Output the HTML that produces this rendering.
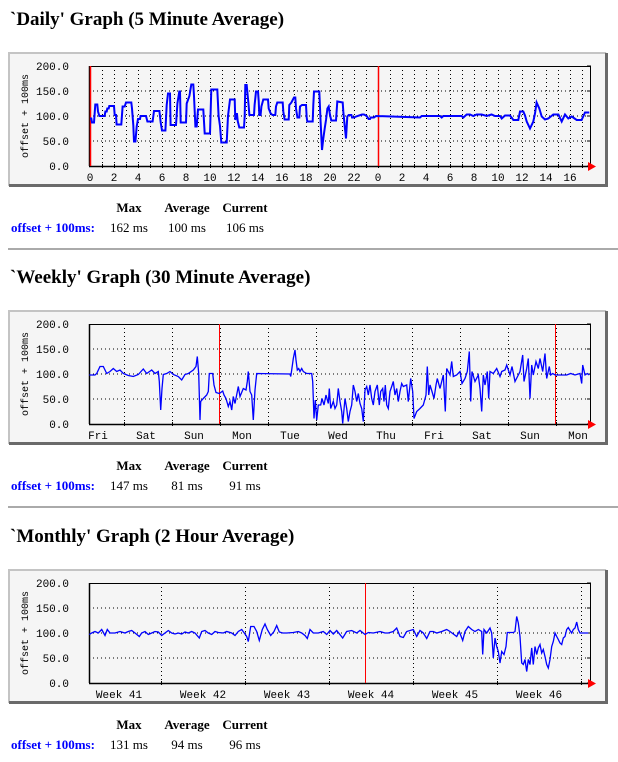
<!DOCTYPE html>
<html><head><meta charset="utf-8"><style>
html,body{margin:0;padding:0;background:#fff;}
svg{display:block;}
</style></head><body>
<svg id="root" width="618" height="762" xmlns="http://www.w3.org/2000/svg"></svg>
<script>
// ===== DATA =====
// Daily: time in hours from chart start, values in ms (offset + 100ms)
const dayHours = [0,0.11,0.17,0.33,0.44,0.61,0.67,0.78,1.22,1.28,1.39,1.44,1.56,1.61,2.0,2.06,2.17,2.22,2.61,2.72,2.89,3.0,3.44,3.5,3.61,3.67,3.78,3.89,4.0,4.17,4.22,4.67,4.78,5.22,5.33,5.78,5.89,6.0,6.28,6.39,6.5,6.67,6.72,7.17,7.28,7.44,7.5,7.56,8.0,8.06,8.28,8.44,8.61,8.67,8.78,8.89,9.0,9.44,9.56,10.0,10.11,10.61,10.72,10.83,10.94,11.39,11.5,11.67,12.06,12.11,12.17,12.25,12.31,12.44,12.83,12.89,12.94,13.06,13.11,13.22,13.28,13.67,13.72,13.83,14.0,14.06,14.11,14.22,14.28,14.44,14.83,14.89,15.06,15.22,15.44,15.5,15.61,16.06,16.11,16.22,16.56,16.61,16.78,17.0,17.11,17.17,17.28,17.44,17.5,17.67,18.0,18.06,18.11,18.56,18.61,18.67,19.11,19.22,19.33,19.44,19.56,19.67,19.78,19.89,20.0,20.11,20.5,20.61,21.06,21.11,21.22,21.33,21.44,21.56,21.78,21.83,22.0,22.17,22.67,22.83,23.06,23.22,23.33,23.39,23.67,23.83,27.5,27.64,29.17,29.31,29.44,30.97,31.11,31.39,31.67,31.94,32.22,32.64,33.06,33.47,33.75,34.17,34.31,34.58,35.0,35.28,35.69,35.83,36.11,36.25,36.39,36.67,36.94,37.08,37.22,37.44,37.64,37.92,38.19,38.61,39.03,39.31,39.58,39.86,40.14,40.56,40.97,41.25,41.61];
const dayValues = [95,95,87,87,123,123,109,100,100,109,109,115,115,120,120,102,102,83,83,119,119,127,127,115,82,49,49,79,94,94,100,100,89,89,110,110,87,71,71,122,145,145,82,82,125,149,149,87,87,125,140,163,163,140,79,79,113,113,65,65,153,153,100,80,47,47,100,133,133,92,104,104,90,77,77,100,162,162,149,122,102,102,122,149,149,130,102,102,119,133,133,115,105,102,102,119,127,127,109,93,93,122,127,137,137,115,97,97,119,122,122,97,89,89,122,149,149,89,32,55,75,92,115,119,102,91,91,129,127,109,82,55,99,102,102,97,97,99,103,103,100,94,94,97,97,100,97,100,100,97,100,100,97,103,103,100,103,103,100,103,100,100,95,101,101,92,92,109,109,101,89,75,89,105,127,115,99,93,95,103,103,89,103,95,99,92,92,107,107];
const dayTickLabels = ["0","2","4","6","8","10","12","14","16","18","20","22","0","2","4","6","8","10","12","14","16"];
const dayRedHours = [0,24];

// Weekly: time in 10-minute units from chart start
const weekTimes = [1,18,23,33,43,53,63,73,83,93,103,118,133,148,163,173,188,198,208,211,215,219,223,233,243,253,268,278,288,298,313,321,325,329,333,335,343,353,358,361,371,375,381,391,401,405,411,418,423,428,433,438,448,453,463,471,475,478,483,488,493,498,503,603,605,608,613,618,621,625,629,633,638,643,653,668,671,675,679,683,688,691,695,699,705,711,718,721,725,733,738,743,748,753,758,761,768,773,778,783,788,793,798,803,808,813,818,823,828,833,838,843,848,853,858,865,871,875,881,885,889,893,898,903,908,913,918,923,928,933,938,943,953,958,965,971,975,983,993,1003,1011,1015,1019,1023,1029,1035,1041,1045,1053,1063,1069,1073,1083,1088,1093,1103,1113,1119,1128,1135,1141,1145,1149,1158,1168,1173,1178,1183,1188,1195,1199,1203,1213,1223,1233,1238,1248,1253,1263,1269,1278,1288,1293,1301,1305,1313,1318,1323,1328,1333,1341,1348,1353,1361,1368,1373,1381,1385,1391,1399,1433,1445,1458,1473,1478,1481,1488,1495,1501];
const weekValues = [98,98,101,115,115,101,105,111,105,108,101,97,95,99,110,101,108,101,105,85,28,71,99,101,105,99,95,88,99,101,108,115,135,101,8,45,51,58,65,101,101,78,63,61,66,58,51,35,45,28,55,41,75,55,71,68,85,105,65,58,8,68,101,100,95,108,131,148,128,108,111,105,111,105,101,101,85,11,48,8,38,38,38,51,38,58,41,71,31,45,31,38,71,45,25,1,51,31,5,25,38,78,65,45,61,41,31,5,68,75,58,78,51,38,65,78,38,65,71,45,78,38,31,65,75,85,58,71,45,65,81,75,78,45,91,65,11,25,31,38,58,115,58,78,65,51,78,91,71,98,25,111,98,125,95,98,105,81,91,105,145,45,105,85,98,71,25,98,78,105,51,105,101,111,95,105,108,118,98,115,85,98,105,138,85,111,131,51,118,98,125,111,131,105,141,91,115,98,101,98,98,101,98,101,81,118,98,101,98];
const weekDayLabels = ["Fri","Sat","Sun","Mon","Tue","Wed","Thu","Fri","Sat","Sun","Mon"];
const weekRedTimes = [390,1398];

// Monthly: time in 40-minute units from chart start
const monthTimes = [1,8,18,28,38,48,55,63,78,93,108,118,128,138,151,158,168,178,188,198,208,218,228,238,248,258,268,278,288,298,308,318,331,338,348,358,368,378,388,403,413,428,438,448,458,468,473,478,485,495,503,511,520,528,535,545,555,563,571,581,593,613,628,638,648,655,663,673,688,703,713,723,733,743,761,773,788,803,813,828,838,853,873,888,898,913,923,933,943,953,973,983,993,1003,1013,1023,1033,1043,1058,1073,1083,1095,1103,1111,1121,1128,1138,1148,1158,1168,1178,1181,1185,1193,1203,1208,1213,1218,1223,1228,1233,1238,1245,1251,1255,1273,1278,1283,1288,1293,1298,1303,1308,1313,1318,1323,1328,1333,1338,1343,1348,1353,1358,1363,1368,1373,1378,1383,1388,1393,1398,1403,1408,1413,1418,1423,1428,1433,1438,1443,1448,1453,1458,1463,1468,1473,1483,1498];
const monthValues = [97,100,103,100,107,95,107,100,100,103,100,103,105,100,93,100,103,97,100,103,102,95,100,105,100,98,100,98,102,100,103,100,90,103,105,100,97,103,101,100,103,100,95,103,107,98,93,83,113,113,103,85,107,118,107,95,103,115,102,100,100,101,103,100,95,89,107,100,100,103,97,105,98,105,90,103,105,100,105,97,101,100,103,100,100,103,110,93,91,103,107,93,105,100,89,103,103,100,103,107,103,97,93,103,85,103,113,107,103,107,103,57,107,100,110,100,50,90,73,63,40,63,57,73,101,101,103,133,120,93,40,37,47,23,47,37,70,37,73,57,70,77,60,67,53,37,30,47,73,83,100,93,87,80,77,90,93,107,111,105,100,107,110,122,107,100,100,100];
const monthWeekLabels = ["Week 41","Week 42","Week 43","Week 44","Week 45","Week 46"];
const monthRedTimes = [828];

const yTickValues = [0,50,100,150,200];
const yTickLabels = ["0.0","50.0","100.0","150.0","200.0"];

// ===== RENDER =====
const NS = "http://www.w3.org/2000/svg";
const root = document.getElementById('root');
function mk(tag, attrs, parent){ const e=document.createElementNS(NS,tag); for(const k in attrs) e.setAttribute(k,attrs[k]); (parent||root).appendChild(e); return e; }

const PX0 = 89, PX1 = 590;

function section(cfg){
  const g = mk('g',{});
  
  
  const top = cfg.top;
  const plotTop = top + 14, plotBot = top + 114;
  const yScale = v => plotBot - v * 0.5;
  const xScale = cfg.xScale;

  const title = mk('text',{x:10,y:top-27,'font-family':'"Liberation Serif",serif','font-size':19,'font-weight':'bold',fill:'#000'},g);
  title.textContent = cfg.title;
  
  

  const panel = mk('rect',{x:8,y:top,width:599,height:134,fill:'#f5f5f5'},g);
  
  
  mk('path',{d:`M9 ${top+134} V${top+1} H606`,stroke:'#c4c4c4','stroke-width':2,fill:'none'},g);
  mk('path',{d:`M9 ${top+133.5} H606.5 V${top+1}`,stroke:'#6a6a6a','stroke-width':3,fill:'none'},g);

  yTickValues.forEach((v,i)=>{
    const y = yScale(v);
    if(v>0 && v<200){
      const l = mk('line',{x1:PX0,x2:PX1,y1:y,y2:y,stroke:'#000','stroke-width':1,'stroke-dasharray':'1,3'},g);
      
      
    }
    mk('line',{x1:PX1-3,x2:PX1+1,y1:y,y2:y,stroke:'#000'},g);
    const t = mk('text',{x:69,y:y+4,'text-anchor':'end','font-family':'"Liberation Mono",monospace','font-size':11,fill:'#000'},g);
    t.textContent = yTickLabels[i];
    
    
  });
  cfg.vgrid.forEach(tt=>{
    const x = Math.round(xScale(tt))+0.5;
    const l = mk('line',{x1:x,x2:x,y1:plotTop,y2:plotBot,stroke:'#000','stroke-width':1,'stroke-dasharray':'1,3'},g);
    
    
    mk('line',{x1:x,x2:x,y1:plotBot-2,y2:plotBot+2,stroke:'#000'},g);
  });
  mk('line',{x1:PX0,x2:PX1,y1:plotTop+0.5,y2:plotTop+0.5,stroke:'#000'},g);
  mk('line',{x1:PX1+0.5,x2:PX1+0.5,y1:plotTop,y2:plotBot,stroke:'#000'},g);
  mk('line',{x1:PX0+0.5,x2:PX0+0.5,y1:plotTop,y2:plotBot,stroke:'#000','stroke-width':1.5},g);
  const xa = mk('line',{x1:PX0,x2:PX1+2,y1:plotBot+0.5,y2:plotBot+0.5,stroke:'#000','stroke-width':1.5},g);
  
  
  cfg.red.forEach(tt=>{
    const x = Math.round(xScale(tt))+0.5;
    const l = mk('line',{x1:x,x2:x,y1:plotTop,y2:plotBot,stroke:'#ff0000','stroke-width':cfg.redW},g);
    
    
  });
  const ar = mk('polygon',{points:`${PX1-2},${plotBot-4} ${PX1+6},${plotBot+0.5} ${PX1-2},${plotBot+5}`,fill:'#ff0000'},g);
  
  
  cfg.labels.forEach(lb=>{
    const t = mk('text',{x:lb.x,y:plotBot+15,'text-anchor':lb.anchor||'middle','font-family':'"Liberation Mono",monospace','font-size':11,fill:'#000'},g);
    t.textContent = lb.text;
    
    
  });
  const yt = mk('text',{x:0,y:0,transform:`translate(28 ${(plotTop+plotBot)/2}) rotate(-90)`,'text-anchor':'middle','font-family':'"Liberation Mono",monospace','font-size':10,fill:'#000'},g);
  yt.textContent = 'offset + 100ms';
  
  
  const pts = cfg.times.map((tt,i)=> xScale(tt).toFixed(1)+','+yScale(Math.max(0,Math.min(200,cfg.values[i]))).toFixed(1)).join(' ');
  const pl = mk('polyline',{points:pts,fill:'none',stroke:'#0000ff','stroke-width':cfg.lineW,'stroke-linejoin':'miter'},g);
  
  

  const sy = top + 160;
  const heads = [['Max',129],['Average',187],['Current',245]];
  heads.forEach(h=>{
    const t = mk('text',{x:h[1],y:sy,'text-anchor':'middle','font-family':'"Liberation Serif",serif','font-size':13,'font-weight':'bold',fill:'#000'},g);
    t.textContent = h[0];
    
    
  });
  const lab = mk('text',{x:11,y:sy+20,'font-family':'"Liberation Serif",serif','font-size':13,'font-weight':'bold',fill:'#0000ff'},g);
  lab.textContent = 'offset + 100ms:';
  
  
  cfg.stats.forEach((s,i)=>{
    const t = mk('text',{x:heads[i][1],y:sy+20,'text-anchor':'middle','font-family':'"Liberation Serif",serif','font-size':13,fill:'#000'},g);
    t.textContent = s;
    
    
  });
  if(cfg.hr){
    const hr = mk('rect',{x:8,y:top+196,width:610,height:2,fill:'#aaaaaa'},g);
    
    
  }
}

(function(){
  const xs = h => PX0 + 1 + h*12;
  const vg=[]; for(let h=1;h<=41;h++) vg.push(h);
  const labels = dayTickLabels.map((s,i)=>({x:xs(i*2),text:s}));
  section({name:'daily',top:52,title:"`Daily' Graph (5 Minute Average)",xScale:xs,vgrid:vg,red:dayRedHours,redW:1.5,labels,times:dayHours,values:dayValues,lineW:2,stats:['162 ms','100 ms','106 ms'],hr:true});
})();
(function(){
  const xs = t => PX0 + t/3;
  const vg=[]; for(let k=0;k<10;k++) vg.push(105+144*k);
  const labels = weekDayLabels.map((s,i)=>({x:xs(105+144*(i-1)+72)-2,text:s}));
  section({name:'weekly',top:310,title:"`Weekly' Graph (30 Minute Average)",xScale:xs,vgrid:vg,red:weekRedTimes,redW:1,labels,times:weekTimes,values:weekValues,lineW:1.3,stats:['147 ms','81 ms','91 ms'],hr:true});
})();
(function(){
  const xs = t => PX0 + t/3;
  const vg=[]; for(let k=0;k<6;k++) vg.push(216+252*k);
  const labels = monthWeekLabels.map((s,i)=>({x:xs(216+252*i-126),text:s}));
  section({name:'monthly',top:569,title:"`Monthly' Graph (2 Hour Average)",xScale:xs,vgrid:vg,red:monthRedTimes,redW:1,labels,times:monthTimes,values:monthValues,lineW:1.3,stats:['131 ms','94 ms','96 ms'],hr:false});
})();
</script>
</body></html>
